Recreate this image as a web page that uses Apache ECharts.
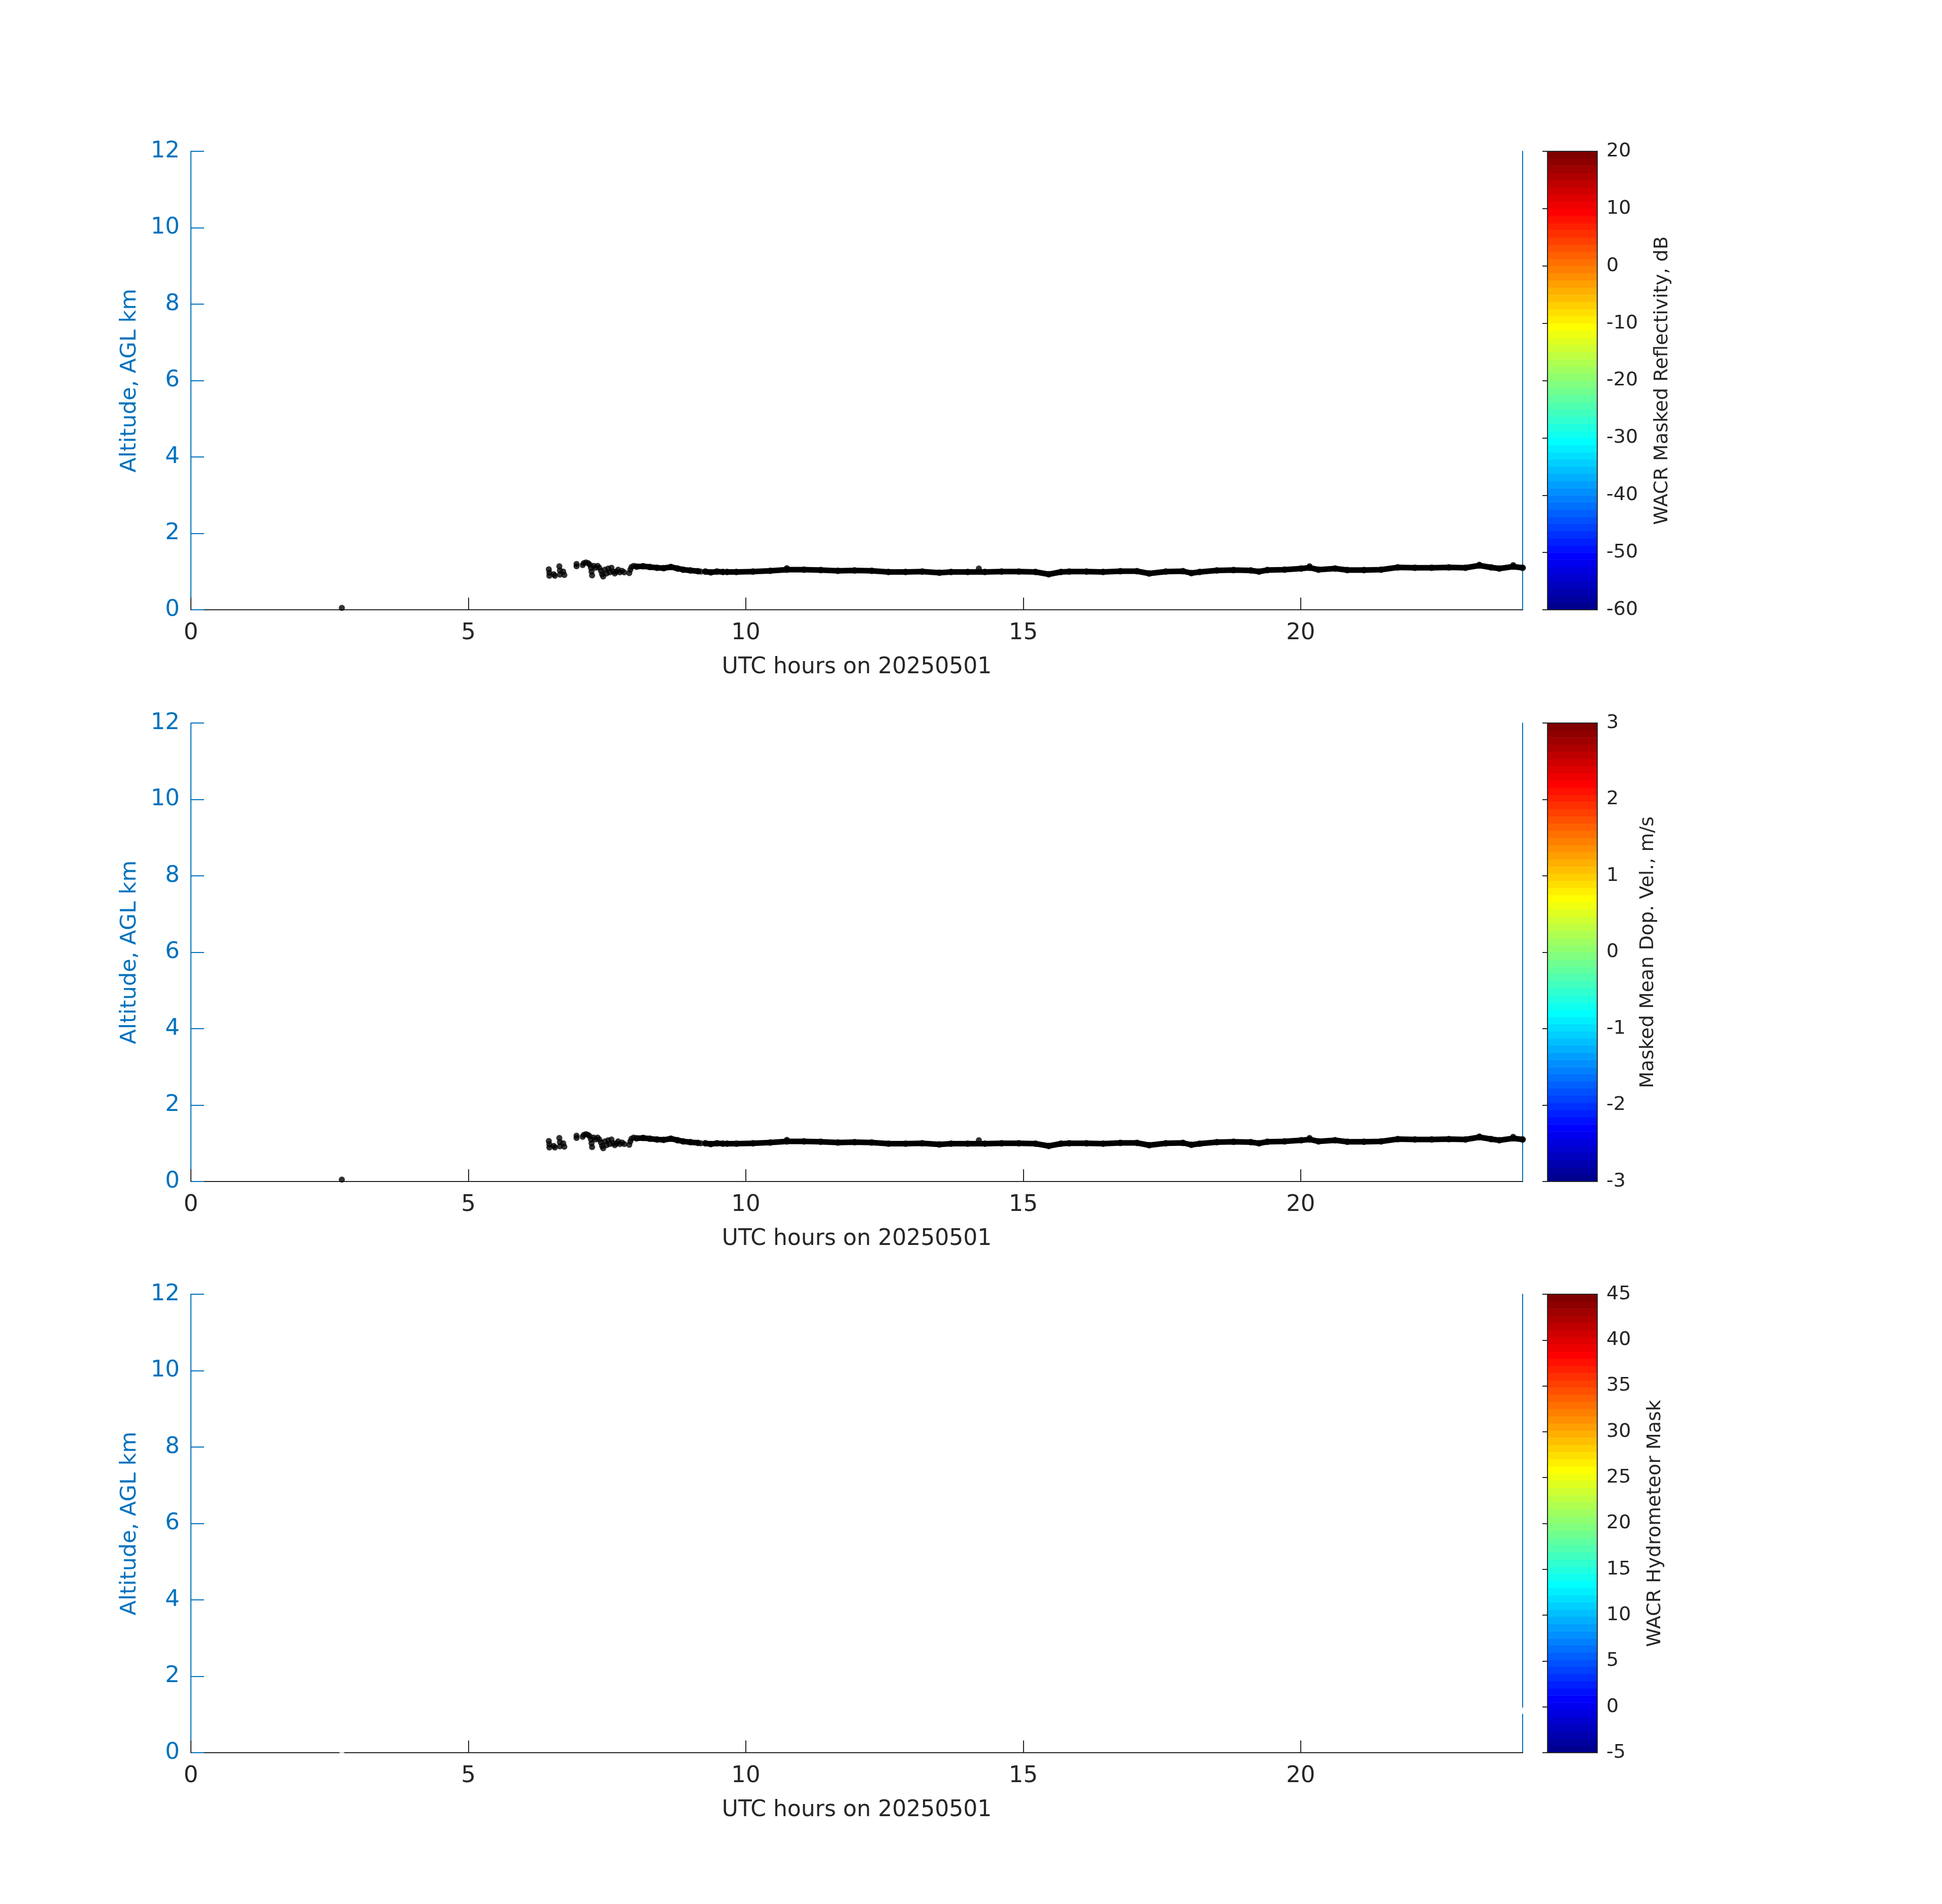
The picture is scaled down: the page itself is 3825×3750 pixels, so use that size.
<!DOCTYPE html>
<html>
<head>
<meta charset="utf-8">
<script src="https://cdn.jsdelivr.net/npm/echarts@6/dist/echarts.min.js"></script>
<style>html,body{margin:0;padding:0;background:#fff}#c{width:3825px;height:3750px}</style>
</head>
<body>
<div id="c"></div>
<script>
// ---------------- data ----------------
const xTicks = [0, 5, 10, 15, 20];
const xLabel = 'UTC hours on 20250501';
const yLabel = 'Altitude, AGL km';

// continuous cloud-base band (null alt = gap)
const bandHours = [8.03, 8.15, 8.27, 8.40, 8.52, 8.65, 8.77, 8.87, 9.00, 9.14, 9.20,
  9.27, 9.37, 9.48, 9.59, 9.62,
  9.66, 9.83, 10.13, 10.44, 10.74, 11.05, 11.35, 11.66, 11.96, 12.27, 12.57, 12.88, 13.18, 13.49,
  13.70, 14.00, 14.31, 14.61, 14.92, 15.22, 15.46, 15.68, 15.83, 16.14, 16.44, 16.75, 17.05,
  17.27, 17.57, 17.88, 18.03, 18.18, 18.49, 18.79, 19.10, 19.25, 19.40, 19.71, 20.01, 20.16,
  20.32, 20.62, 20.84, 21.14, 21.45, 21.75, 22.06, 22.36, 22.67, 22.97, 23.22, 23.43, 23.58,
  23.83, 24.00];
const bandAlt = [1.13, 1.14, 1.12, 1.10, 1.09, 1.12, 1.08, 1.05, 1.03, 1.01, null,
  1.00, 0.98, 1.00, 0.99, null,
  0.99, 0.99, 1.00, 1.02, 1.05, 1.05, 1.04, 1.02, 1.03, 1.02, 0.99, 0.99, 1.00, 0.97,
  0.99, 0.99, 0.99, 1.00, 1.00, 0.99, 0.93, 0.99, 1.00, 1.00, 0.99, 1.01, 1.01,
  0.95, 1.00, 1.01, 0.96, 0.99, 1.03, 1.04, 1.03, 1.00, 1.04, 1.05, 1.08, 1.10,
  1.05, 1.08, 1.04, 1.04, 1.05, 1.11, 1.10, 1.10, 1.11, 1.10, 1.16, 1.11, 1.08,
  1.13, 1.10];

// isolated returns
const dotHours = [2.72,
  6.45, 6.46, 6.46, 6.54, 6.56,
  6.64, 6.65, 6.65, 6.71, 6.73,
  6.95, 6.95,
  7.06, 7.08, 7.12, 7.16, 7.19, 7.21, 7.22, 7.23, 7.26, 7.29,
  7.33, 7.36, 7.39, 7.41, 7.43, 7.46, 7.49, 7.52, 7.55,
  7.58, 7.61, 7.64, 7.67, 7.70, 7.73, 7.77, 7.81,
  7.90, 7.92, 7.94, 7.98,
  9.19, 10.74, 14.20, 20.16, 23.22, 23.83];
const dotAlt = [0.05,
  1.06, 0.97, 0.89, 0.93, 0.89,
  1.14, 1.03, 0.92, 1.00, 0.91,
  1.20, 1.14,
  1.17, 1.22, 1.24, 1.22, 1.18, 1.10, 1.00, 0.90, 1.15, 1.10,
  1.15, 1.10, 1.02, 0.93, 0.87, 1.05, 0.95, 1.08, 0.98,
  1.10, 1.00, 0.95, 1.00, 1.05, 0.98, 1.02, 0.98,
  0.96, 1.05, 1.12, 1.15,
  1.00, 1.09, 1.08, 1.14, 1.18, 1.17];

// colorbars
const cbTitles = ['WACR Masked Reflectivity, dB', 'Masked Mean Dop. Vel., m/s', 'WACR Hydrometeor Mask'];
const cbMin = [-60, -3, -5];
const cbMax = [20, 3, 45];
const cbStep = [10, 1, 5];
const panelColor = ['#000000', '#000000', '#ffffff'];

// ---------------- layout ----------------
const FONT = 'DejaVu Sans';
const BLUE = '#0072BD';
const DARK = '#262626';
const tops = [298, 1424, 2549];
const H = 903;
const LEFT = 376, PW = 2623;
const CBL = 3048, CBW = 98;
const cbNameGap = [109, 81, 95];

// matlab jet(64)
function jet(m) {
  const n = Math.ceil(m / 4);
  const u = [];
  for (let i = 1; i <= n; i++) u.push(i / n);
  for (let i = 1; i < n; i++) u.push(1);
  for (let i = n; i >= 1; i--) u.push(i / n);
  const off = Math.ceil(n / 2) - (m % 4 === 1 ? 1 : 0);
  const J = [];
  for (let i = 0; i < m; i++) J.push([0, 0, 0]);
  for (let k = 0; k < u.length; k++) {
    const g = off + k + 1, r = g + n, b = g - n;
    if (r >= 1 && r <= m) J[r - 1][0] = u[k];
    if (g >= 1 && g <= m) J[g - 1][1] = u[k];
    if (b >= 1 && b <= m) J[b - 1][2] = u[k];
  }
  return J.map(c => 'rgb(' + c.map(v => Math.round(v * 255)).join(',') + ')');
}
const JET = jet(64);

const grid = [], xAxis = [], yAxis = [], series = [];
const bandData = bandHours.map((h, i) => bandAlt[i] === null ? [h, '-'] : [h, bandAlt[i]]);
const bandPts = bandHours.map((h, i) => [h, bandAlt[i]]).filter(p => p[1] !== null);
const dotData = dotHours.map((h, i) => [h, dotAlt[i]]);

for (let p = 0; p < 3; p++) {
  // main panel
  grid.push({left: LEFT, top: tops[p], width: PW, height: H});
  const gi = grid.length - 1;
  xAxis.push({
    gridIndex: gi, type: 'value', min: 0, max: 24, interval: 5,
    name: xLabel, nameLocation: 'middle', nameGap: 92,
    nameTextStyle: {fontFamily: FONT, fontSize: 44, color: DARK},
    axisLine: {show: true, onZero: false, lineStyle: {color: DARK, width: 2}},
    axisTick: {show: true, inside: true, length: 24, lineStyle: {color: DARK, width: 2}, customValues: xTicks},
    axisLabel: {fontFamily: FONT, fontSize: 45, color: DARK, margin: 24, customValues: xTicks},
    splitLine: {show: false}
  });
  const xi = xAxis.length - 1;
  yAxis.push({
    gridIndex: gi, type: 'value', min: 0, max: 12, interval: 2, position: 'left',
    name: yLabel, nameLocation: 'middle', nameGap: 99,
    nameTextStyle: {fontFamily: FONT, fontSize: 43, color: BLUE},
    axisLine: {show: true, onZero: false, lineStyle: {color: BLUE, width: 2}},
    axisTick: {show: true, inside: true, length: 26, lineStyle: {color: BLUE, width: 2}},
    axisLabel: {fontFamily: FONT, fontSize: 45, color: BLUE, margin: 22},
    splitLine: {show: false}
  });
  const yi = yAxis.length - 1;
  yAxis.push({
    gridIndex: gi, type: 'value', min: 0, max: 12, position: 'right',
    axisLine: {show: true, onZero: false, lineStyle: {color: BLUE, width: 2}},
    axisTick: {show: false}, axisLabel: {show: false}, splitLine: {show: false}
  });
  series.push({
    type: 'line', xAxisIndex: xi, yAxisIndex: yi, data: bandData, showSymbol: false, symbol: 'none',
    connectNulls: false, silent: true, animation: false, z: 3,
    lineStyle: {color: panelColor[p], width: 11, cap: 'round', join: 'round'}
  });
  series.push({
    type: 'scatter', xAxisIndex: xi, yAxisIndex: yi, data: bandPts, symbol: 'circle', symbolSize: 13,
    silent: true, animation: false, z: 3, itemStyle: {color: panelColor[p]}
  });
  series.push({
    type: 'scatter', xAxisIndex: xi, yAxisIndex: yi, data: dotData, symbol: 'circle', symbolSize: 12,
    silent: true, animation: false, z: 3, itemStyle: {color: panelColor[p]}
  });

  // colorbar
  grid.push({left: CBL, top: tops[p], width: CBW, height: H, show: true, borderColor: DARK, borderWidth: 2,
    backgroundColor: 'transparent', z: 5});
  const cgi = grid.length - 1;
  xAxis.push({gridIndex: cgi, type: 'value', min: 0, max: 1, show: false});
  const cxi = xAxis.length - 1;
  yAxis.push({
    gridIndex: cgi, type: 'value', min: cbMin[p], max: cbMax[p], interval: cbStep[p], position: 'right', z: 5,
    name: cbTitles[p], nameLocation: 'middle', nameGap: cbNameGap[p], nameRotate: 90,
    nameTextStyle: {fontFamily: FONT, fontSize: 38, color: DARK},
    axisLine: {show: true, lineStyle: {color: DARK, width: 2}},
    axisTick: {show: true, inside: true, length: 10, lineStyle: {color: DARK, width: 2}},
    axisLabel: {fontFamily: FONT, fontSize: 38, color: DARK, margin: 18},
    splitLine: {show: false}
  });
  const cyi = yAxis.length - 1;
  const step = (cbMax[p] - cbMin[p]) / 64;
  const cells = JET.map((c, i) => [0.5, cbMin[p] + i * step, cbMin[p] + (i + 1) * step, i]);
  series.push({
    type: 'custom', xAxisIndex: cxi, yAxisIndex: cyi, data: cells, silent: true, animation: false, z: 1,
    encode: {x: 0, y: 1},
    renderItem: function (params, api) {
      const lo = api.value(1), hi = api.value(2), idx = api.value(3);
      const a = api.coord([0, hi]);
      const b = api.coord([1, lo]);
      return {type: 'rect', shape: {x: a[0], y: a[1], width: b[0] - a[0], height: b[1] - a[1] + 0.6},
        style: {fill: JET[idx], stroke: null}};
    }
  });
}

const chart = echarts.init(document.getElementById('c'), null, {renderer: 'canvas'});
chart.setOption({
  backgroundColor: '#ffffff',
  animation: false,
  grid: grid, xAxis: xAxis, yAxis: yAxis, series: series
});
</script>
</body>
</html>
